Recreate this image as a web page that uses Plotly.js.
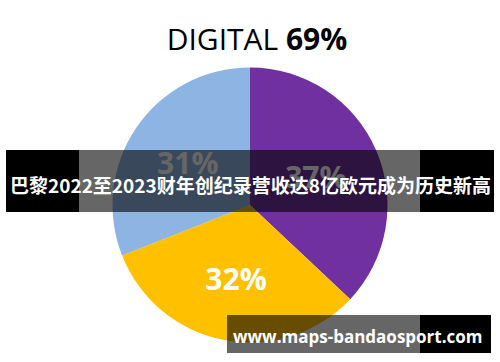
<!DOCTYPE html>
<html>
<head>
<meta charset="utf-8">
<script src="https://cdn.plot.ly/plotly-3.0.1.min.js"></script>
<style>
  html, body { margin: 0; padding: 0; background: #ffffff; }
  #chart { width: 500px; height: 362px; }
</style>
</head>
<body>
<div id="chart"></div>
<script>
// Revenue split shown in the pie (percent of digital share)
const categories = ['Purple', 'Yellow', 'Blue'];
const shares = [37, 32, 31];
const sliceColors = ['#7030A0', '#FFC000', '#8EB4E3'];

const titleText = 'DIGITAL <b>69%</b>';
const headline = '巴黎2022至2023财年创纪录营收达8亿欧元成为历史新高';
const siteText = 'www.maps-bandaosport.com';

const W = 500, H = 362;
// helpers converting pixel positions into paper fractions
const px = x => x / W;
const py = y => 1 - y / H;

const cx = 250, cy = 205, r = 137.5;

const trace = {
  type: 'pie',
  labels: categories,
  values: shares,
  sort: false,
  direction: 'clockwise',
  rotation: 0,
  marker: { colors: sliceColors, line: { width: 0 } },
  texttemplate: '%{value}%',
  textposition: 'inside',
  insidetextorientation: 'horizontal',
  textfont: { family: 'Open Sans, sans-serif', size: 30, color: '#ffffff', weight: 'bold' },
  hoverinfo: 'skip',
  showlegend: false,
  domain: { x: [px(cx - r), px(cx + r)], y: [py(cy + r), py(cy - r)] }
};

const layout = {
  width: W,
  height: H,
  margin: { l: 0, r: 0, t: 0, b: 0 },
  paper_bgcolor: '#ffffff',
  plot_bgcolor: '#ffffff',
  title: {
    text: titleText,
    x: 0.514, xanchor: 'center',
    y: py(39), yref: 'container', yanchor: 'middle',
    font: { family: 'Open Sans, sans-serif', size: 30, color: '#000000' }
  },
  shapes: [
    // headline band
    { type: 'rect', xref: 'paper', yref: 'paper', layer: 'above',
      x0: px(6), x1: px(79), y0: py(212), y1: py(150), fillcolor: '#000000', line: { width: 0 } },
    { type: 'rect', xref: 'paper', yref: 'paper', layer: 'above',
      x0: px(79), x1: px(420), y0: py(212), y1: py(150), fillcolor: 'rgba(0,0,0,0.6)', line: { width: 0 } },
    { type: 'rect', xref: 'paper', yref: 'paper', layer: 'above',
      x0: px(420), x1: px(494), y0: py(212), y1: py(150), fillcolor: '#000000', line: { width: 0 } },
    // site label box
    { type: 'rect', xref: 'paper', yref: 'paper', layer: 'above',
      x0: px(227), x1: px(420), y0: py(353), y1: py(315), fillcolor: 'rgba(0,0,0,0.6)', line: { width: 0 } },
    { type: 'rect', xref: 'paper', yref: 'paper', layer: 'above',
      x0: px(420), x1: px(491), y0: py(353), y1: py(315), fillcolor: '#000000', line: { width: 0 } }
  ],
  annotations: [
    { text: '<b>' + headline + '</b>', xref: 'paper', yref: 'paper',
      x: px(250), y: py(184), xanchor: 'center', yanchor: 'middle', showarrow: false,
      font: { family: 'Noto Sans CJK SC, sans-serif', size: 19, color: '#ffffff' } },
    { text: '<b>' + siteText + '</b>', xref: 'paper', yref: 'paper',
      x: px(358), y: py(336), xanchor: 'center', yanchor: 'middle', showarrow: false,
      font: { family: 'Open Sans, sans-serif', size: 17, color: '#ffffff' } }
  ]
};

Plotly.newPlot('chart', [trace], layout, { displayModeBar: false, staticPlot: true });
</script>
</body>
</html>
